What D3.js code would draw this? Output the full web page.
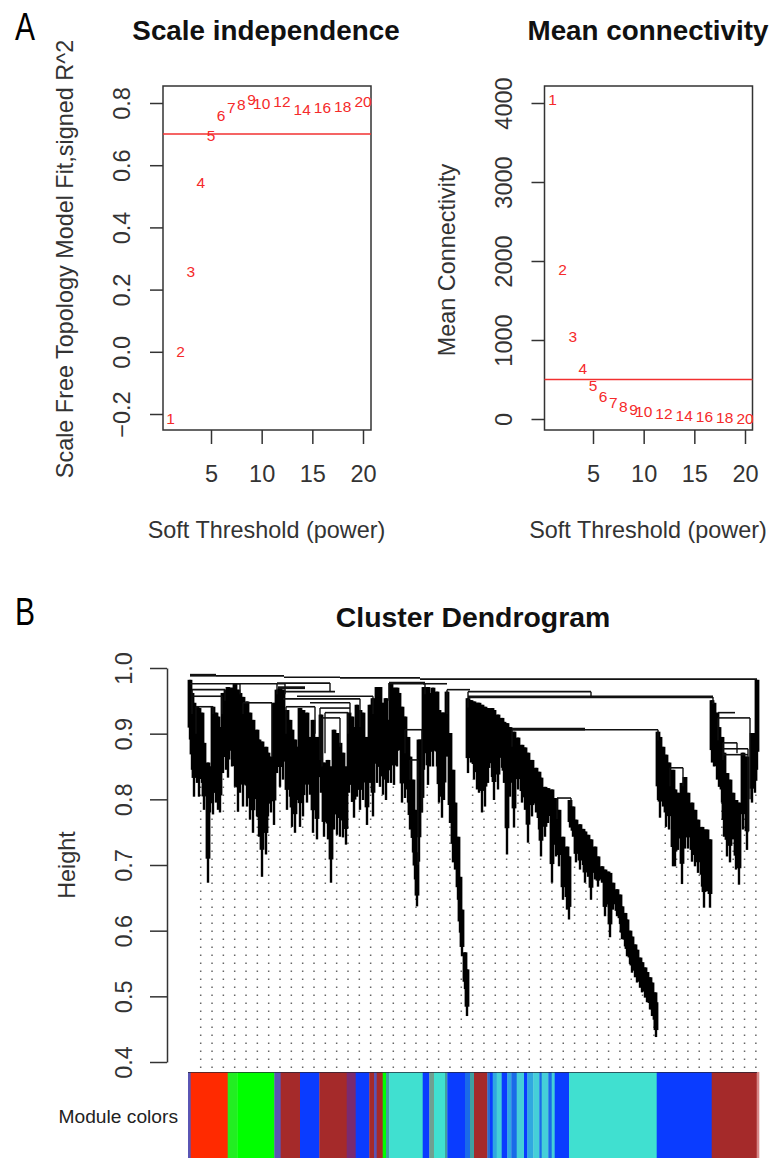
<!DOCTYPE html>
<html>
<head>
<meta charset="utf-8">
<script src="https://cdn.jsdelivr.net/npm/d3@7"></script>
<style>
  html, body { margin: 0; padding: 0; background: #fff; }
  svg { display: block; }
  text { font-family: "Liberation Sans", Arial, sans-serif; fill: #222; }
</style>
</head>
<body>
<div id="chart-area"></div>
<script>
const powers = [1, 2, 3, 4, 5, 6, 7, 8, 9, 10, 12, 14, 16, 18, 20];
const scaleFit = [-0.215, 0.0, 0.26, 0.545, 0.695, 0.76, 0.785, 0.795, 0.81, 0.8, 0.805, 0.78, 0.785, 0.79, 0.805];
const meanConn = [4040, 1890, 1050, 645, 420, 290, 215, 165, 115, 100, 65, 50, 30, 25, 5];
const powerTicks = [5, 10, 15, 20];
const fitTicks = [-0.2, 0, 0.2, 0.4, 0.6, 0.8];
const connTicks = [0, 1000, 2000, 3000, 4000];
const heightTicks = [0.4, 0.5, 0.6, 0.7, 0.8, 0.9, 1.0];

// dendrogram branches: [leaf, top height, bottom height]
const branches = [
  [2,.982,.891],[4,.962,.845],[6,.947,.804],[9,.941,.825],[11,.939,.804],[14,.932,.825],[16,.886,.784],[20,.856,.673],
  [22,.850,.780],[25,.941,.777],[28,.932,.795],[30,.926,.784],[32,.910,.780],[35,.962,.840],[38,.967,.845],[40,.971,.833],
  [44,.970,.850],[47,.977,.819],[50,.967,.781],[52,.962,.810],[55,.956,.789],[59,.949,.789],[62,.932,.769],[65,.921,.749],
  [69,.906,.774],[71,.891,.743],[74,.888,.682],[78,.880,.716],[80,.871,.774],[83,.865,.780],[86,.947,.761],[89,.967,.840],
  [92,.970,.819],[95,.967,.830],[99,.936,.784],[102,.921,.804],[104,.906,.758],[107,.891,.749],[110,.880,.799],[112,.939,.758],
  [115,.936,.774],[119,.932,.795],[122,.895,.807],[125,.921,.749],[129,.895,.739],[133,.929,.810],[136,.856,.743],[140,.860,.739],
  [143,.850,.673],[146,.906,.754],[149,.901,.746],[152,.886,.743],[155,.871,.742],[158,.850,.731],[161,.932,.810],[164,.926,.796],
  [166,.910,.772],[169,.944,.804],[172,.936,.784],[175,.932,.799],[179,.895,.761],[182,.944,.825],[185,.954,.774],[189,.971,.825],
  [192,.971,.819],[195,.947,.807],[198,.954,.799],[200,.921,.825],[203,.977,.825],[206,.970,.822],[209,.970,.850],[211,.962,.875],
  [214,.941,.795],[217,.926,.802],[220,.895,.795],[222,.865,.754],[225,.830,.719],[227,.784,.678],[229,.719,.637],[231,.891,.705],
  [234,.891,.780],[236,.971,.845],[240,.971,.822],[242,.962,.850],[245,.970,.850],[249,.964,.850],[251,.936,.795],[254,.932,.772],
  [256,.932,.799],[259,.964,.865],[262,.901,.764],[265,.845,.704],[267,.795,.693],[270,.743,.647],[272,.682,.597],[274,.632,.561],
  [277,.567,.511],[279,.541,.470],[280,.954,.840],[283,.951,.856],[286,.949,.830],[289,.947,.815],[291,.947,.810],[294,.944,.780],
  [297,.941,.789],[300,.939,.825],[304,.939,.834],[306,.936,.799],[310,.929,.815],[314,.924,.848],[316,.918,.825],[319,.916,.716],
  [322,.910,.804],[326,.903,.757],[330,.894,.815],[334,.883,.795],[337,.879,.784],[340,.871,.734],[344,.860,.774],[348,.848,.780],
  [351,.842,.754],[353,.833,.713],[357,.819,.743],[360,.817,.764],[364,.815,.673],[368,.802,.713],[371,.784,.698],[375,.743,.647],
  [379,.728,.632],[381,.713,.617],[382,.799,.757],[385,.789,.743],[388,.769,.704],[392,.762,.693],[395,.755,.700],[397,.751,.673],
  [400,.746,.682],[403,.739,.647],[407,.728,.678],[410,.713,.667],[414,.698,.673],[417,.693,.622],[420,.690,.640],[422,.688,.590],
  [425,.673,.632],[429,.663,.622],[432,.655,.610],[434,.637,.587],[437,.627,.576],[439,.617,.561],[442,.600,.549],[444,.591,.536],
  [447,.579,.529],[449,.571,.521],[452,.559,.513],[454,.552,.506],[457,.544,.498],[459,.537,.491],[462,.529,.480],[464,.521,.470],
  [467,.506,.454],[468,.491,.438],[470,.903,.799],[472,.895,.772],[475,.880,.789],[478,.868,.758],[481,.856,.754],[485,.845,.698],
  [487,.815,.698],[490,.810,.723],[494,.825,.671],[497,.834,.725],[500,.810,.725],[504,.795,.705],[507,.784,.698],[510,.769,.688],
  [514,.758,.667],[516,.754,.635],[519,.754,.660],[522,.739,.635],[524,.951,.856],[526,.947,.850],[529,.932,.830],[531,.910,.819],
  [534,.895,.795],[536,.871,.743],[539,.840,.713],[542,.830,.704],[545,.810,.739],[548,.799,.693],[551,.795,.670],[555,.871,.754],
  [557,.865,.795],[559,.865,.723],[564,.901,.795],[567,.901,.810],[569,.982,.845]
];

// horizontal joins: [left leaf, right leaf, height]
const merges = [
  [2,28,.989],[28,96,.988],[96,152,.986],[152,232,.985],[232,569,.983],[2,52,.976],[49,97,.976],[89,142,.977],
  [4,37,.967],[5,34,.957],[90,117,.970],[97,147,.964],[109,185,.957],[95,172,.953],[122,162,.947],[98,127,.941],
  [132,162,.939],[137,160,.932],[134,152,.924],[55,84,.947],[8,25,.941],[201,237,.977],[235,259,.976],[259,282,.967],
  [280,403,.964],[280,525,.956],[217,234,.906],[222,230,.860],[324,470,.906],[369,383,.802],[482,495,.848],
  [530,562,.924],[530,547,.932],[535,549,.886],[535,560,.877],[535,560,.868]
];

// the top joins that read heavier in the picture: [left leaf, right leaf, height]
const heavyMerges = [[2,28,.989],[280,525,.956],[324,397,.907],[201,237,.977],[90,117,.970]];

// thin upright stems under the joins: [leaf, top height, bottom height]
const stems = [
  [4,.967,.930],[34,.957,.930],[37,.967,.950],[8,.941,.900],[25,.941,.930],[84,.947,.865],[55,.947,.930],[185,.957,.930],
  [172,.953,.910],[98,.941,.900],[127,.941,.900],[132,.939,.860],[162,.947,.930],[137,.932,.870],[160,.932,.900],[134,.924,.850],
  [152,.924,.880],[217,.906,.870],[234,.906,.780],[222,.860,.830],[230,.860,.700],[324,.906,.880],[470,.906,.890],[369,.802,.770],
  [383,.802,.790],[482,.848,.820],[495,.848,.820],[562,.924,.800],[530,.924,.890],[535,.886,.860],[549,.886,.870],[560,.877,.750],
  [403,.964,.956],[525,.956,.945],[280,.964,.940],[259,.967,.930],[201,.977,.950],[237,.977,.960],[89,.977,.960],[142,.977,.964],
  [52,.976,.960],[97,.976,.960]
];

// module colour strip, left to right, with the leaf each stretch ends on
const moduleNames = ["slate","red","lime","green","slate","brown","blue","brown","purple","blue","brown","slate","brown","green","teal",
  "turquoise","blue","grey","turquoise","teal","blue","azure","teal","brown","steel","blue","sky","aqua","blue","sky","azure","aqua","blue","sky",
  "aqua","azure","aqua","azure","aqua","blue","turquoise","blue","brown","pink"];
const moduleEnds = [2.7,39.7,49.3,86.3,92.7,112,131.3,158.7,167.7,181.3,186,188.7,194.7,198,201.3,
  234.7,241.3,246,257,259.3,277,282,286,299.3,302,304.7,308.7,313.7,319.3,323.3,328.7,336,339.3,345.3,
  351.3,353.7,360.3,363.7,366.7,381,468.7,523.7,568.7,571];

const moduleColor = d3.scaleOrdinal()
  .domain(["slate","red","lime","green","brown","blue","purple","teal","turquoise","grey","azure","steel","sky","aqua","pink"])
  .range(["#5a55b4","#ff2a00","#22ee22","#00ff00","#a52a2a","#0a3cff","#7a2a70","#40a0a0","#40e0d0","#70a090","#1a6be8","#2a6ad0","#30a8e0","#45cfd8","#d88888"]);

const svg = d3.select("#chart-area")
  .append("svg")
  .attr("width", 772)
  .attr("height", 1158);

[["A", 40], ["B", 625]].forEach(([s, yy]) => {
  svg.append("text").attr("x", 15).attr("y", yy)
    .attr("font-size", "38px")
    .attr("textLength", 20)
    .attr("lengthAdjust", "spacingAndGlyphs")
    .style("fill", "#000")
    .text(s);
});

function rTicks(sel, off) {
  sel.select(".domain").remove();
  sel.selectAll(".tick line").attr("stroke", "#333").attr("stroke-width", 1.5);
  sel.selectAll(".tick text")
    .attr("font-size", "23.5px")
    .style("fill", "#333")
    .attr("x", 0).attr("dy", 0).attr("text-anchor", "middle");
  sel.selectAll(".tick text").attr("y", off);
}

function panel(o) {
  const x = d3.scaleLinear().domain([5, 20]).range(o.xRange);
  const y = d3.scaleLinear().domain(o.yDomain).range(o.yRange);

  svg.append("rect")
    .attr("x", o.box[0]).attr("y", 86)
    .attr("width", o.box[1] - o.box[0]).attr("height", 344)
    .attr("fill", "none").attr("stroke", "#333").attr("stroke-width", 1.5);

  svg.append("g")
    .attr("transform", `translate(0, 430)`)
    .call(d3.axisBottom(x).tickValues(powerTicks).tickSize(14))
    .call(rTicks, 52);

  svg.append("g")
    .attr("transform", `translate(${o.box[0]}, 0)`)
    .call(d3.axisLeft(y).tickValues(o.yTicks).tickSize(13).tickFormat(o.yFormat))
    .call(rTicks, -33)
    .selectAll(".tick text")
    .attr("transform", "rotate(-90)");

  svg.append("line")
    .attr("x1", o.box[0]).attr("x2", o.box[1])
    .attr("y1", y(o.cut)).attr("y2", y(o.cut))
    .attr("stroke", "#f23030").attr("stroke-width", 1.5);

  svg.selectAll(null)
    .data(powers)
    .enter()
    .append("text")
    .attr("x", d => x(d))
    .attr("y", (d, i) => y(o.values[i]))
    .attr("dy", "0.36em")
    .attr("text-anchor", "middle")
    .attr("font-size", "15.5px")
    .style("fill", "#f52a2a")
    .text(d => d);

  svg.append("text")
    .attr("x", o.titleX).attr("y", 40)
    .attr("text-anchor", "middle")
    .attr("font-size", "27.8px")
    .attr("font-weight", "bold")
    .style("fill", "#111")
    .text(o.title);

  svg.append("text")
    .attr("x", (o.box[0] + o.box[1]) / 2 - 0.5).attr("y", 538)
    .attr("text-anchor", "middle")
    .attr("font-size", "23.4px")
    .style("fill", "#333")
    .text("Soft Threshold (power)");

  svg.append("text")
    .attr("transform", `translate(${o.labelX}, ${o.labelY}) rotate(-90)`)
    .attr("text-anchor", "middle")
    .attr("font-size", "23.4px")
    .style("fill", "#333")
    .text(o.yLabel);
}

panel({
  box: [163, 371], xRange: [211, 363],
  yDomain: [-0.2, 0.8], yRange: [414, 103], yTicks: fitTicks,
  yFormat: d3.format(".1f"), values: scaleFit, cut: 0.7,
  title: "Scale independence", titleX: 266,
  yLabel: "Scale Free Topology Model Fit,signed R^2", labelX: 73, labelY: 259
});

panel({
  box: [544.5, 752.5], xRange: [593, 745],
  yDomain: [0, 4000], yRange: [419, 103], yTicks: connTicks,
  yFormat: d3.format("d"), values: meanConn, cut: 500,
  title: "Mean connectivity", titleX: 648,
  yLabel: "Mean Connectivity", labelX: 455, labelY: 260
});

// cluster dendrogram
const leaf = d3.scaleLinear().domain([0, 571]).range([188, 759]);
const h = d3.scaleLinear().domain([0.4, 1.0]).range([1062, 668]);

svg.append("text")
  .attr("x", 473).attr("y", 627)
  .attr("text-anchor", "middle")
  .attr("font-size", "28.4px")
  .attr("font-weight", "bold")
  .style("fill", "#111")
  .text("Cluster Dendrogram");

const hAxis = svg.append("g")
  .attr("transform", "translate(167, 0)")
  .call(d3.axisLeft(h).tickValues(heightTicks).tickSize(17).tickSizeOuter(0).tickFormat(d3.format(".1f")));
hAxis.select(".domain").attr("stroke", "#333").attr("stroke-width", 1.5);
hAxis.selectAll(".tick line").attr("stroke", "#333").attr("stroke-width", 1.5);
hAxis.selectAll(".tick text")
  .attr("font-size", "23.5px")
  .style("fill", "#333")
  .attr("x", 0).attr("y", -35).attr("dy", 0)
  .attr("text-anchor", "middle")
  .attr("transform", "rotate(-90)");

svg.append("text")
  .attr("transform", "translate(75, 865) rotate(-90)")
  .attr("text-anchor", "middle")
  .attr("font-size", "23.4px")
  .style("fill", "#333")
  .text("Height");

// dotted guides from each sampled leaf down to the colour strip
const guides = d3.range(50).map(i => 200.7 + i * 11.33);
svg.append("g")
  .selectAll("line")
  .data(guides)
  .enter()
  .append("line")
  .attr("x1", d => d).attr("x2", d => d)
  .attr("y1", 1068)
  .attr("y2", d => {
    const l = leaf.invert(d);
    const near = d3.least(branches, b => Math.abs(b[0] - l));
    return h(near[2]);
  })
  .attr("stroke", "#666")
  .attr("stroke-width", 1.5)
  .attr("stroke-dasharray", "1.5 6.5");

const tree = svg.append("g").style("filter", "blur(0.5px)");

// each branch: solid body down to about 80% of its length, thin tip below
tree.selectAll(".body")
  .data(branches)
  .enter()
  .append("line")
  .attr("class", "body")
  .attr("x1", d => leaf(d[0])).attr("x2", d => leaf(d[0]))
  .attr("y1", d => h(d[1]))
  .attr("y2", d => h(d[1]) + (h(d[2]) - h(d[1])) * 0.8)
  .attr("stroke", "#000")
  .attr("stroke-width", 4.8);

tree.selectAll(".tip")
  .data(branches)
  .enter()
  .append("line")
  .attr("class", "tip")
  .attr("x1", d => leaf(d[0])).attr("x2", d => leaf(d[0]))
  .attr("y1", d => h(d[1])).attr("y2", d => h(d[2]))
  .attr("stroke", "#000")
  .attr("stroke-width", 2.4);

tree.selectAll(".stem")
  .data(stems)
  .enter()
  .append("line")
  .attr("class", "stem")
  .attr("x1", d => leaf(d[0])).attr("x2", d => leaf(d[0]))
  .attr("y1", d => h(d[1])).attr("y2", d => h(d[2]))
  .attr("stroke", "#111")
  .attr("stroke-width", 1.4);

tree.selectAll(".merge")
  .data(merges)
  .enter()
  .append("line")
  .attr("class", "merge")
  .attr("x1", d => leaf(d[0])).attr("x2", d => leaf(d[1]))
  .attr("y1", d => h(d[2])).attr("y2", d => h(d[2]))
  .attr("stroke", "#111")
  .attr("stroke-width", 1.6);

tree.selectAll(".heavy")
  .data(heavyMerges)
  .enter()
  .append("line")
  .attr("class", "heavy")
  .attr("x1", d => leaf(d[0])).attr("x2", d => leaf(d[1]))
  .attr("y1", d => h(d[2])).attr("y2", d => h(d[2]))
  .attr("stroke", "#111")
  .attr("stroke-width", 2.8);

// colour strip
svg.append("g")
  .selectAll("rect")
  .data(moduleNames)
  .enter()
  .append("rect")
  .attr("x", (d, i) => leaf(i ? moduleEnds[i - 1] : 0))
  .attr("y", 1072)
  .attr("width", (d, i) => leaf(moduleEnds[i]) - leaf(i ? moduleEnds[i - 1] : 0) + 0.3)
  .attr("height", 86)
  .attr("fill", d => moduleColor(d));

svg.append("line")
  .attr("x1", leaf(0)).attr("x2", leaf(569))
  .attr("y1", 1072.5).attr("y2", 1072.5)
  .attr("stroke", "#223").attr("stroke-width", 1).attr("opacity", 0.7);

svg.append("text")
  .attr("x", 178).attr("y", 1123)
  .attr("text-anchor", "end")
  .attr("font-size", "19.2px")
  .style("fill", "#222")
  .text("Module colors");
</script>
</body>
</html>
